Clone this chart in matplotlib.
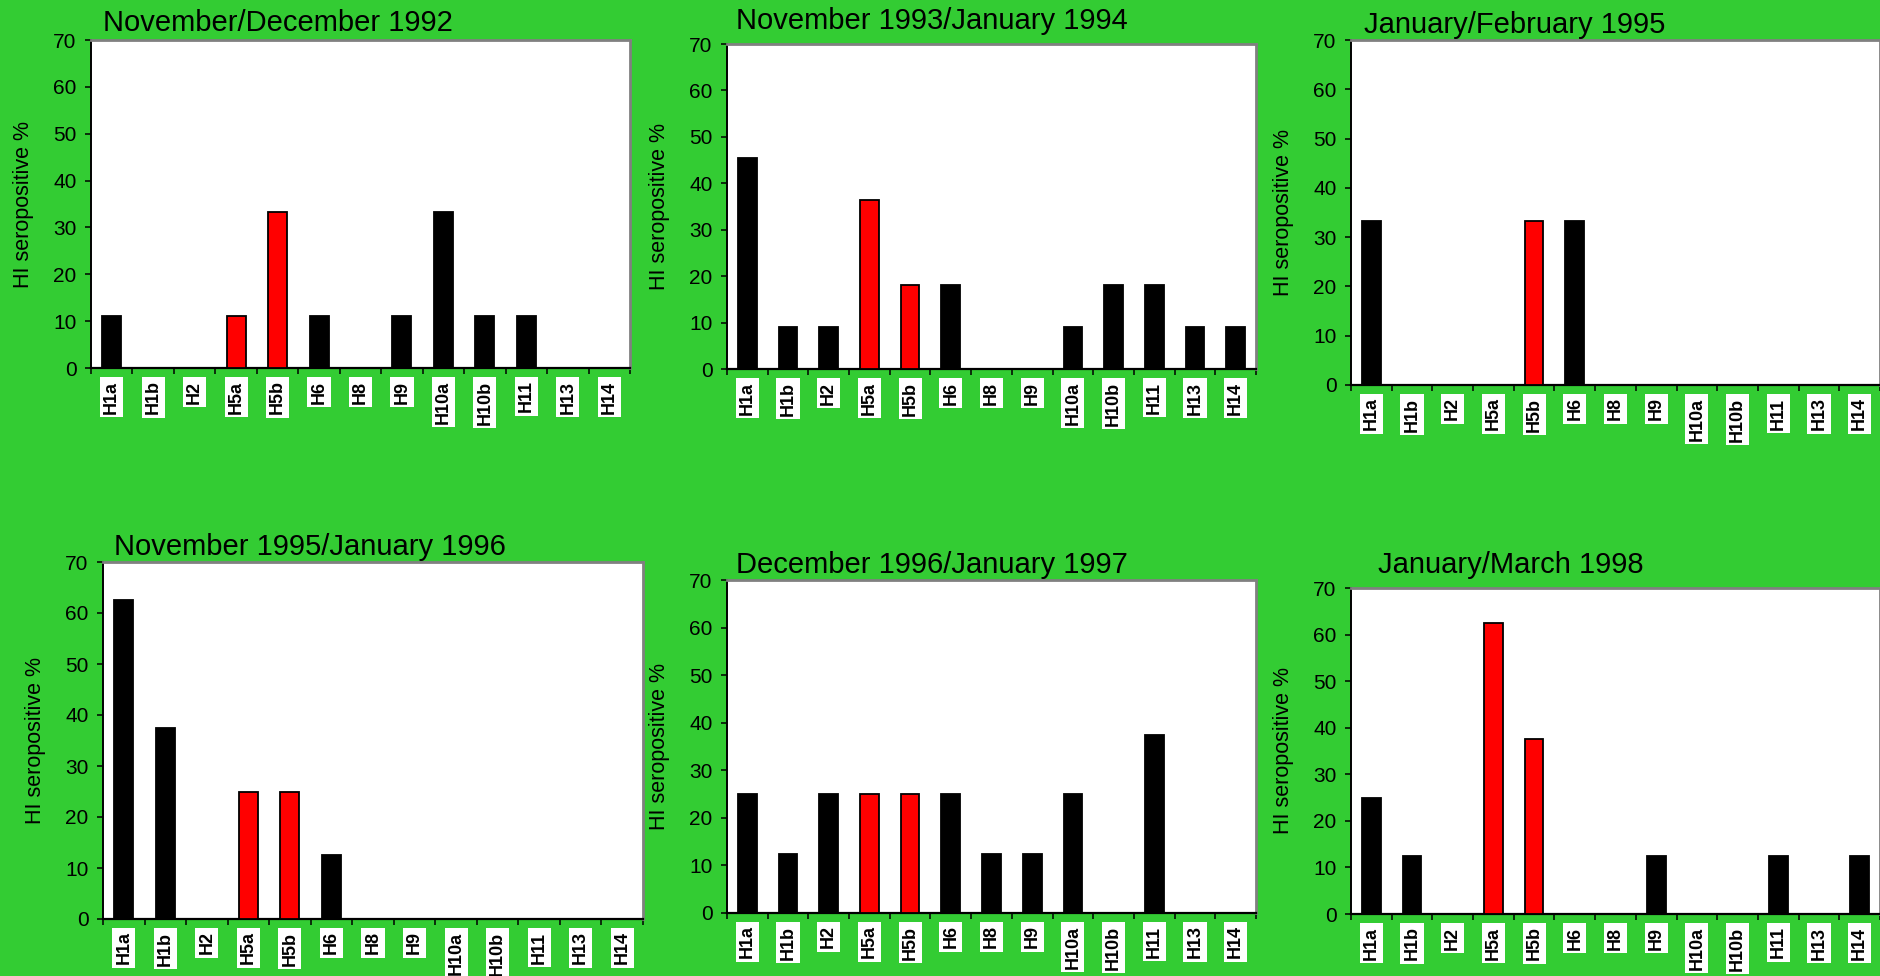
import numpy as np
import matplotlib
matplotlib.use("Agg")
import matplotlib.pyplot as plt

plt.rcParams['font.family'] = ['Liberation Sans', 'DejaVu Sans']

# Haemagglutinin subtypes tested
subtypes = ["H1a", "H1b", "H2", "H5a", "H5b", "H6", "H8", "H9",
            "H10a", "H10b", "H11", "H13", "H14"]
highlight = ["H5a", "H5b"]

titles = [
    "November/December 1992",
    "November 1993/January 1994",
    "January/February 1995",
    "November 1995/January 1996",
    "December 1996/January 1997",
    "January/March 1998",
]

# HI seropositive percentages per subtype, one list per sampling period
nov_dec_1992 = [11.1, 0, 0, 11.1, 33.3, 11.1, 0, 11.1, 33.3, 11.1, 11.1, 0, 0]
nov93_jan94 = [45.5, 9.1, 9.1, 36.4, 18.2, 18.2, 0, 0, 9.1, 18.2, 18.2, 9.1, 9.1]
jan_feb_1995 = [33.3, 0, 0, 0, 33.3, 33.3, 0, 0, 0, 0, 0, 0, 0]
nov95_jan96 = [62.5, 37.5, 0, 25.0, 25.0, 12.5, 0, 0, 0, 0, 0, 0, 0]
dec96_jan97 = [25.0, 12.5, 25.0, 25.0, 25.0, 25.0, 12.5, 12.5, 25.0, 0, 37.5, 0, 0]
jan_mar_1998 = [25.0, 12.5, 0, 62.5, 37.5, 0, 0, 12.5, 0, 0, 12.5, 0, 12.5]

series = [nov_dec_1992, nov93_jan94, jan_feb_1995,
          nov95_jan96, dec96_jan97, jan_mar_1998]

y_ticks = [0, 10, 20, 30, 40, 50, 60, 70]
y_label = "HI seropositive %"

# Layout in pixels: (left, top, right, bottom) of each plot area,
# and (x, baseline y) of each panel title
W, H = 1881, 976
DPI = 100
boxes = [
    (91, 40, 630, 368),
    (727, 44, 1256, 369),
    (1351, 40, 1880, 385),
    (103, 562, 643, 919),
    (727, 580, 1256, 913),
    (1351, 588, 1880, 914),
]
title_pos = [
    (103, 31), (736, 29), (1364, 33),
    (114, 555), (736, 573), (1378, 573),
]

GREEN = "#33cc33"
RED = "#ff0000"
GREY = "#808080"

fig = plt.figure(figsize=(W / DPI, H / DPI), dpi=DPI, facecolor=GREEN)

x = np.arange(len(subtypes))
colors = [RED if s in highlight else "black" for s in subtypes]

for vals, title, (l, t, r, b), (tx, ty) in zip(series, titles, boxes, title_pos):
    ax = fig.add_axes([l / W, 1 - b / H, (r - l) / W, (b - t) / H])
    ax.set_facecolor("white")
    ax.bar(x, vals, width=0.46, color=colors, edgecolor="black",
           linewidth=1.3, zorder=3)
    ax.set_xlim(-0.5, len(subtypes) - 0.5)
    ax.set_ylim(0, 70)

    # spines: black axes, grey frame
    ax.spines['left'].set_color("black")
    ax.spines['bottom'].set_color("black")
    ax.spines['left'].set_linewidth(1.4)
    ax.spines['bottom'].set_linewidth(1.6)
    for side in ("top", "right"):
        ax.spines[side].set_color(GREY)
        ax.spines[side].set_linewidth(2.0)

    ax.set_yticks(y_ticks)
    ax.tick_params(axis="y", direction="out", length=4.5, width=1.1,
                   pad=6.0, labelsize=15, colors="black")

    # category labels at centres, tick marks on the category boundaries
    ax.set_xticks(x)
    ax.set_xticklabels(subtypes, rotation=90, fontsize=13, fontweight="bold")
    ax.tick_params(axis="x", which="major", length=0, pad=9)
    ax.set_xticks(np.arange(len(subtypes) + 1) - 0.5, minor=True)
    ax.tick_params(axis="x", which="minor", direction="out", length=4,
                   width=1.1)
    for lab in ax.get_xticklabels():
        lab.set_bbox(dict(facecolor="white", edgecolor="none", pad=2.2))

    ax.set_ylabel(y_label, fontsize=15.5, va="center")
    ax.yaxis.set_label_coords(-67 / (r - l), 0.5)

    fig.text(tx / W, 1 - ty / H, title, fontsize=21, ha="left",
             va="baseline", color="black")

fig.savefig("out.png", dpi=DPI, facecolor=GREEN)
